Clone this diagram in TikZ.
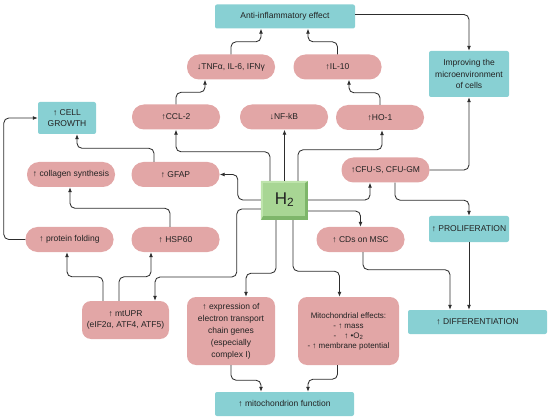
\documentclass[tikz,border=0pt]{standalone}
\usepackage{fontspec}
\setmainfont{Liberation Sans}
\usetikzlibrary{arrows.meta,calc}
\definecolor{pinkc}{RGB}{226,166,166}
\definecolor{tealc}{RGB}{136,208,211}
\definecolor{greenc}{RGB}{168,214,148}
\definecolor{greend}{RGB}{126,182,106}
\definecolor{greenl}{RGB}{190,228,172}
\definecolor{txt}{RGB}{35,35,35}
\definecolor{linec}{RGB}{45,45,45}
\begin{document}
\begin{tikzpicture}[x=1pt,y=-1pt,
  base/.style={inner sep=0pt, text=txt, font=\fontsize{8.5}{11.5}\selectfont, align=center},
  pill/.style={base, fill=pinkc, rounded corners=12pt, minimum width=88pt, minimum height=25pt},
  rbox/.style={base, fill=pinkc, rounded corners=9pt},
  tbox/.style={base, fill=tealc, rounded corners=2pt},
  conn/.style={draw=linec, line width=0.85pt, rounded corners=5pt, -{Latex[length=5pt,width=4pt]}}
]
\useasboundingbox (0,0) rectangle (550,420);

% teal boxes
\node[tbox, minimum width=140pt, minimum height=24pt] (anti) at (285,16.5) {Anti-inflammatory effect};
\node[tbox, minimum width=80pt, minimum height=46pt] (impr) at (469,74) {Improving the\\microenvironment\\of cells};
\node[tbox, minimum width=58pt, minimum height=32pt] (cell) at (67,118) {↑ CELL\\GROWTH};
\node[tbox, minimum width=80pt, minimum height=26pt] (prolif) at (469,229) {↑ PROLIFERATION};
\node[tbox, minimum width=139pt, minimum height=24pt] (diff) at (477.5,322) {↑ DIFFERENTIATION};
\node[tbox, minimum width=139pt, minimum height=24pt] (mitof) at (284.5,404) {↑ mitochondrion function};

% pills
\node[pill] (tnf) at (231,67) {↓TNFα, IL-6, IFNγ};
\node[pill] (il10) at (337.5,67) {↑IL-10};
\node[pill] (ccl) at (176,117) {↑CCL-2};
\node[pill] (nfkb) at (284,117) {↓NF-kB};
\node[pill] (ho1) at (380,117.5) {↑HO-1};
\node[pill] (coll) at (71,174.5) {↑ collagen synthesis};
\node[pill] (gfap) at (175.5,174.5) {↑ GFAP};
\node[pill] (cfu) at (385.5,170) {↑CFU-S, CFU-GM};
\node[pill] (prot) at (69.5,239.5) {↑ protein folding};
\node[pill] (hsp) at (175.5,239.5) {↑ HSP60};
\node[pill] (cds) at (360.5,239.5) {↑ CDs on MSC};

% rounded boxes
\node[rbox, minimum width=87pt, minimum height=38pt] (mtupr) at (125.5,320) {↑ mtUPR\\(eIF2α, ATF4, ATF5)};
\node[rbox, minimum width=88pt, minimum height=68pt, font=\fontsize{8.5}{12}\selectfont] (expr) at (231,331) {↑ expression of\\electron transport\\chain genes\\(especially\\complex I)};
\node[rbox, minimum width=101pt, minimum height=68pt, font=\fontsize{8}{10}\selectfont] (mito) at (348.5,331) {Mitochondrial effects:\\- ↑ mass\\-\quad ↑ •O\textsubscript{2}\\- ↑ membrane potential};

% H2 bevel
\node[inner sep=0pt, minimum width=47pt, minimum height=39pt, fill=greend] (h2) at (284.5,200.5) {};
\fill[greenl] (h2.north west) -- (h2.north east) -- ([xshift=-3pt,yshift=-2pt]h2.north east) -- ([xshift=2pt,yshift=-2pt]h2.north west) -- ([xshift=2pt,yshift=4pt]h2.south west) -- (h2.south west) -- cycle;
\fill[greenc] ([xshift=2pt,yshift=-2pt]h2.north west) rectangle ([xshift=-3pt,yshift=4pt]h2.south east);
\node[inner sep=0pt, text=txt, font=\fontsize{17}{20}\selectfont] at ([yshift=1pt]h2.center) {H\textsubscript{2}};

% connectors
\draw[conn] (tnf.north) -- ++(0,-12.5) -| ([xshift=-24pt]anti.south);
\draw[conn] (il10.north) -- ++(0,-12.5) -| ([xshift=23pt]anti.south);
\draw[conn] ([yshift=2pt]anti.east) -| (impr.north);
\draw[conn] (ccl.north) -- ++(0,-12) -| ([xshift=-26pt]tnf.south);
\draw[conn] (ho1.north) -- ++(0,-12) -| ([xshift=11.5pt]il10.south);
\draw[conn] ([xshift=-14.5pt]h2.north) -- ++(0,-29) -| (ccl.south);
\draw[conn] (h2.north) -- (h2.north |- nfkb.south);
\draw[conn] ([xshift=13.5pt]h2.north) -- ++(0,-31) -| ([xshift=2pt]ho1.south);
\draw[conn] ([yshift=0.5pt]h2.west) -- ++(-23,0) |- (gfap.east);
\draw[conn] ([yshift=-8.5pt]h2.west) -- ++(-24,0) -- ++(0,68) -| ([xshift=29.5pt]mtupr.north);
\draw[conn] ([xshift=-21.5pt]gfap.north) -- ++(0,-13.5) -| ([xshift=10pt]cell.south);
\draw[conn] ([xshift=-5.5pt]hsp.north) -- ++(0,-18.5) -| ([xshift=-1pt]coll.south);
\draw[conn] (prot.west) -- ++(-21.5,0) |- (cell.west);
\draw[conn] ([xshift=-22.5pt]mtupr.north) -- ++(0,-24) -| ([xshift=-2.5pt]prot.south);
\draw[conn] ([xshift=-6.5pt]mtupr.north) -- ++(0,-24) -| ([xshift=-24.5pt]hsp.south);
\draw[conn] ([yshift=0.5pt]h2.east) -| ([xshift=-15.5pt]cfu.south);
\draw[conn] ([yshift=-10.5pt]h2.east) -| (cds.north);
\draw[conn] ([xshift=-8.5pt]h2.south) -- ++(0,53) -| ([xshift=15pt]expr.north);
\draw[conn] ([xshift=8.5pt]h2.south) -- ++(0,51) -| ([xshift=-9pt]mito.north);
\draw[conn] (expr.south) -- ++(0,15) -| ([xshift=-23.5pt]mitof.north);
\draw[conn] ([xshift=-11pt]mito.south) -- ++(0,14) -| ([xshift=23.5pt]mitof.north);
\draw[conn] (cfu.east) -| (impr.south);
\draw[conn] ([xshift=9.5pt]cfu.south) -- ++(0,17.5) -| (prolif.north);
\draw[conn] ([xshift=2.5pt]cds.south) -- ++(0,17.5) -| ([xshift=-27.5pt]diff.north);
\draw[conn] (prolif.south) -- (prolif.south |- diff.north);
\end{tikzpicture}
\end{document}
